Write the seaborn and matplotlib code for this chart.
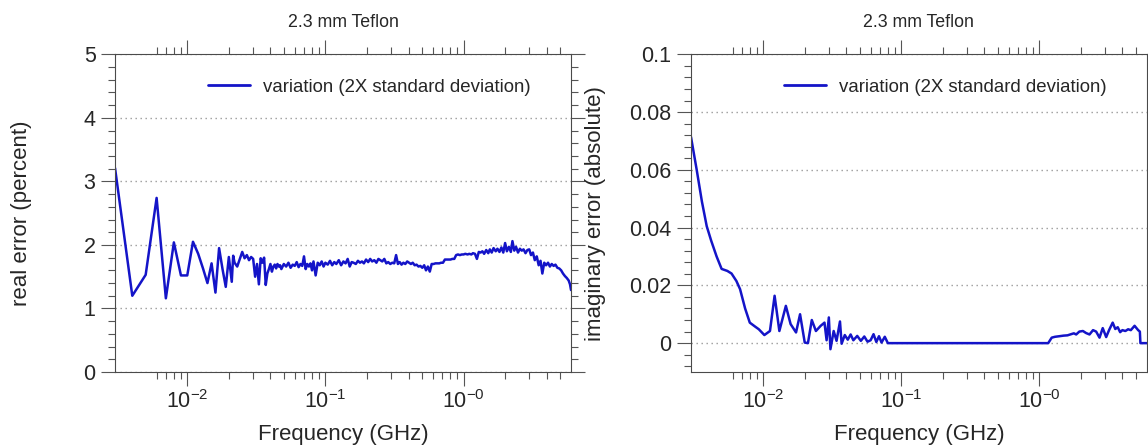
import numpy as np
import pandas as pd
import matplotlib
matplotlib.use("Agg")
import matplotlib.pyplot as plt
import matplotlib.ticker as mticker
import seaborn as sns

# ---------------- data ----------------
freq_real = [
    0.003, 0.004, 0.005, 0.006, 0.007, 0.008, 0.009, 0.010, 0.011, 0.012,
    0.013, 0.014, 0.015, 0.016, 0.017, 0.018, 0.019, 0.020, 0.021, 0.0215,
    0.022, 0.023, 0.024, 0.025, 0.026, 0.027, 0.028, 0.029, 0.030, 0.031,
    0.032, 0.033, 0.034, 0.035, 0.036, 0.037, 0.038, 0.039, 0.040, 0.041,
    0.042, 0.043, 0.044, 0.045, 0.046, 0.047, 0.048, 0.050, 0.052, 0.054,
    0.056, 0.058, 0.060, 0.062, 0.064, 0.066, 0.068, 0.070, 0.072, 0.074,
    0.076, 0.078, 0.080, 0.082, 0.085, 0.088, 0.091, 0.094, 0.097, 0.100,
    0.104, 0.108, 0.112, 0.116, 0.120, 0.125, 0.130, 0.135, 0.140, 0.145,
    0.150, 0.155, 0.160, 0.166, 0.172, 0.178, 0.184, 0.190, 0.197, 0.204,
    0.211, 0.218, 0.226, 0.234, 0.242, 0.250, 0.258, 0.267, 0.276, 0.285,
    0.295, 0.305, 0.315, 0.325, 0.335, 0.345, 0.356, 0.367, 0.379, 0.391,
    0.403, 0.416, 0.429, 0.443, 0.457, 0.472, 0.487, 0.503, 0.519, 0.535,
    0.552, 0.570, 0.588, 0.607, 0.626, 0.646, 0.667, 0.688, 0.710, 0.733,
    0.756, 0.780, 0.805, 0.830, 0.857, 0.884, 0.912, 0.941, 0.971, 1.00,
    1.03, 1.07, 1.10, 1.14, 1.17, 1.21, 1.25, 1.29, 1.33, 1.37,
    1.41, 1.46, 1.51, 1.55, 1.60, 1.65, 1.71, 1.76, 1.82, 1.88,
    1.94, 2.00, 2.06, 2.13, 2.20, 2.26, 2.33, 2.40, 2.48, 2.56,
    2.64, 2.72, 2.81, 2.90, 2.99, 3.08, 3.18, 3.28, 3.39, 3.50,
    3.61, 3.72, 3.84, 3.96, 4.09, 4.22, 4.35, 4.49, 4.63, 4.78,
    4.93, 5.09, 5.25, 5.42, 5.59, 5.77, 5.90, 6.00,
]
real_error = [
    3.21, 1.20, 1.53, 2.74, 1.16, 2.04, 1.52, 1.52, 2.05, 1.86,
    1.63, 1.40, 1.71, 1.25, 1.95, 1.62, 1.34, 1.81, 1.42, 1.83,
    1.72, 1.66, 1.78, 1.89, 1.79, 1.84, 1.76, 1.81, 1.78, 1.50,
    1.70, 1.38, 1.79, 1.72, 1.80, 1.37, 1.55, 1.62, 1.70, 1.58,
    1.66, 1.69, 1.63, 1.70, 1.66, 1.68, 1.62, 1.70, 1.66, 1.72,
    1.64, 1.69, 1.67, 1.73, 1.65, 1.70, 1.67, 1.82, 1.62, 1.70,
    1.66, 1.71, 1.60, 1.74, 1.52, 1.72, 1.68, 1.74, 1.66, 1.72,
    1.69, 1.75, 1.68, 1.73, 1.70, 1.76, 1.68, 1.74, 1.71, 1.78,
    1.66, 1.73, 1.72, 1.70, 1.75, 1.72, 1.74, 1.71, 1.77, 1.73,
    1.78, 1.74, 1.76, 1.72, 1.78, 1.76, 1.74, 1.78, 1.71, 1.73,
    1.70, 1.72, 1.71, 1.84, 1.70, 1.73, 1.69, 1.72, 1.70, 1.74,
    1.72, 1.70, 1.72, 1.68, 1.69, 1.66, 1.67, 1.64, 1.68, 1.60,
    1.66, 1.58, 1.70, 1.70, 1.71, 1.71, 1.71, 1.72, 1.72, 1.77,
    1.77, 1.77, 1.77, 1.78, 1.78, 1.84, 1.85, 1.84, 1.85, 1.85,
    1.86, 1.85, 1.86, 1.85, 1.87, 1.86, 1.78, 1.89, 1.88, 1.90,
    1.86, 1.92, 1.87, 1.93, 1.88, 1.95, 1.90, 1.94, 1.89, 1.96,
    1.88, 2.03, 1.90, 1.97, 1.89, 2.06, 1.91, 1.97, 1.88, 1.94,
    1.91, 1.93, 1.87, 1.92, 1.93, 1.84, 1.88, 1.76, 1.82, 1.68,
    1.75, 1.55, 1.72, 1.68, 1.72, 1.66, 1.70, 1.67, 1.69, 1.64,
    1.63, 1.60, 1.55, 1.51, 1.48, 1.44, 1.38, 1.29,
]

freq_imag = [
    0.0030, 0.0033, 0.0036, 0.0039, 0.0042, 0.0046, 0.0050, 0.0055, 0.0059, 0.0064,
    0.0068, 0.0074, 0.0080, 0.0087, 0.0093, 0.0102, 0.0112, 0.0121, 0.0131, 0.0146,
    0.0158, 0.0173, 0.0185, 0.0200, 0.0211, 0.0225, 0.0241, 0.0261, 0.0278, 0.0288,
    0.0299, 0.0307, 0.0324, 0.0340, 0.0360, 0.0370, 0.0390, 0.0410, 0.0430, 0.0450,
    0.0480, 0.0510, 0.0540, 0.0570, 0.0600, 0.0630, 0.0660, 0.0690, 0.0720, 0.0760,
    0.0800, 1.16, 1.23, 1.30, 1.40, 1.50, 1.60, 1.70, 1.78, 1.85,
    1.95, 2.07, 2.18, 2.31, 2.45, 2.58, 2.73, 2.88, 3.05, 3.20,
    3.40, 3.55, 3.70, 3.85, 4.00, 4.20, 4.40, 4.60, 4.90, 5.20,
    5.35, 5.40, 6.00,
]
imag_error = [
    0.0714, 0.0600, 0.0490, 0.0405, 0.0355, 0.0300, 0.0257, 0.0250, 0.0241, 0.0215,
    0.0187, 0.0120, 0.0071, 0.0058, 0.0048, 0.0028, 0.0042, 0.0164, 0.0042, 0.0129,
    0.0066, 0.0037, 0.0100, 0.0002, 0.0000, 0.0080, 0.0042, 0.0060, 0.0071, 0.0010,
    0.0089, -0.0021, 0.0042, 0.0008, 0.0075, -0.0002, 0.0028, 0.0012, 0.0030, 0.0010,
    0.0025, 0.0008, 0.0023, 0.0005, 0.0010, 0.0031, 0.0004, 0.0024, 0.0002, 0.0022,
    0.0000, 0.0000, 0.0019, 0.0022, 0.0024, 0.0026, 0.0027, 0.0031, 0.0034, 0.0030,
    0.0040, 0.0042, 0.0035, 0.0030, 0.0045, 0.0040, 0.0019, 0.0052, 0.0021, 0.0045,
    0.0071, 0.0049, 0.0055, 0.0038, 0.0045, 0.0042, 0.0048, 0.0045, 0.0060, 0.0045,
    0.0040, 0.0000, 0.0000,
]

title_text = "2.3 mm Teflon"
legend_label = "variation (2X standard deviation)"
x_label = "Frequency (GHz)"
y_label_real = "real error (percent)"
y_label_imag = "imaginary error (absolute)"
x_major = [0.01, 0.1, 1.0]
x_major_labels = [r"$\mathregular{10^{-2}}$", r"$\mathregular{10^{-1}}$", r"$\mathregular{10^{-0}}$"]

# ---------------- style ----------------
sns.set_style("ticks")
plt.rcParams["font.family"] = ["Liberation Sans", "DejaVu Sans"]
plt.rcParams["mathtext.default"] = "regular"

LINE_COLOR = "#1414c8"
SPINE_COLOR = "#4a4a4a"
TICK_COLOR = "#555555"
GRID_COLOR = "#9a9a9a"

fig = plt.figure(figsize=(11.48, 4.45), dpi=100)
ax1 = fig.add_axes([0.1002, 0.164, 0.3972, 0.714])
ax2 = fig.add_axes([0.6019, 0.164, 0.3970, 0.714])

df_real = pd.DataFrame({"freq": freq_real, "err": real_error})
df_imag = pd.DataFrame({"freq": freq_imag, "err": imag_error})

sns.lineplot(data=df_real, x="freq", y="err", ax=ax1, color=LINE_COLOR,
             linewidth=1.8, label=legend_label, sort=False)
sns.lineplot(data=df_imag, x="freq", y="err", ax=ax2, color=LINE_COLOR,
             linewidth=1.8, label=legend_label, sort=False)

minor_x = [k * 10.0 ** e for e in (-3, -2, -1, 0) for k in range(2, 10)]
minor_x = [m for m in minor_x if 0.0055 < m < 5.5]


def style_axes(ax, ylim, ymajor, yminor, ylab, yfmt, ylab_x):
    ax.set_xscale("log")
    ax.set_xlim(0.003, 6.0)
    ax.set_ylim(*ylim)
    ax.xaxis.set_major_locator(mticker.FixedLocator(x_major))
    ax.xaxis.set_major_formatter(mticker.FixedFormatter(x_major_labels))
    ax.xaxis.set_minor_locator(mticker.FixedLocator(minor_x))
    ax.xaxis.set_minor_formatter(mticker.NullFormatter())
    ax.yaxis.set_major_locator(mticker.MultipleLocator(ymajor))
    ax.yaxis.set_minor_locator(mticker.MultipleLocator(yminor))
    ax.yaxis.set_major_formatter(mticker.FuncFormatter(yfmt))
    for sp in ax.spines.values():
        sp.set_visible(True)
        sp.set_color(SPINE_COLOR)
        sp.set_linewidth(0.8)
    ax.tick_params(which="both", direction="out", top=True, right=True,
                   bottom=True, left=True, color=TICK_COLOR, width=0.8)
    ax.tick_params(which="major", length=10, labelsize=15.5, pad=4)
    ax.tick_params(which="minor", length=5)
    ax.tick_params(axis="x", which="major", pad=3)
    ax.grid(False)
    ax.yaxis.grid(True, which="major", color=GRID_COLOR, linestyle=(0, (1, 2.6)),
                  linewidth=1.0)
    ax.set_axisbelow(True)
    ax.set_xlabel(x_label, fontsize=16)
    ax.xaxis.set_label_coords(0.5, -0.165)
    ax.set_ylabel(ylab, fontsize=16)
    ax.yaxis.set_label_coords(ylab_x, 0.5)
    ax.set_title(title_text, fontsize=12.8, y=1.085, pad=0)
    leg = ax.legend(loc="center left", bbox_to_anchor=(0.204, 0.897), frameon=False,
                    fontsize=13.4, handlelength=2.25, handletextpad=0.7,
                    borderpad=0, borderaxespad=0)
    for h in leg.get_lines():
        h.set_linewidth(2.0)


style_axes(ax1, (0, 5), 1, 0.2, y_label_real, lambda v, p: f"{v:g}", -0.182)
style_axes(ax2, (-0.01, 0.1), 0.02, 0.004, y_label_imag,
           lambda v, p: "0" if abs(v) < 1e-9 else f"{v:.2f}".rstrip("0"), -0.186)

fig.savefig("out.png", dpi=100)
